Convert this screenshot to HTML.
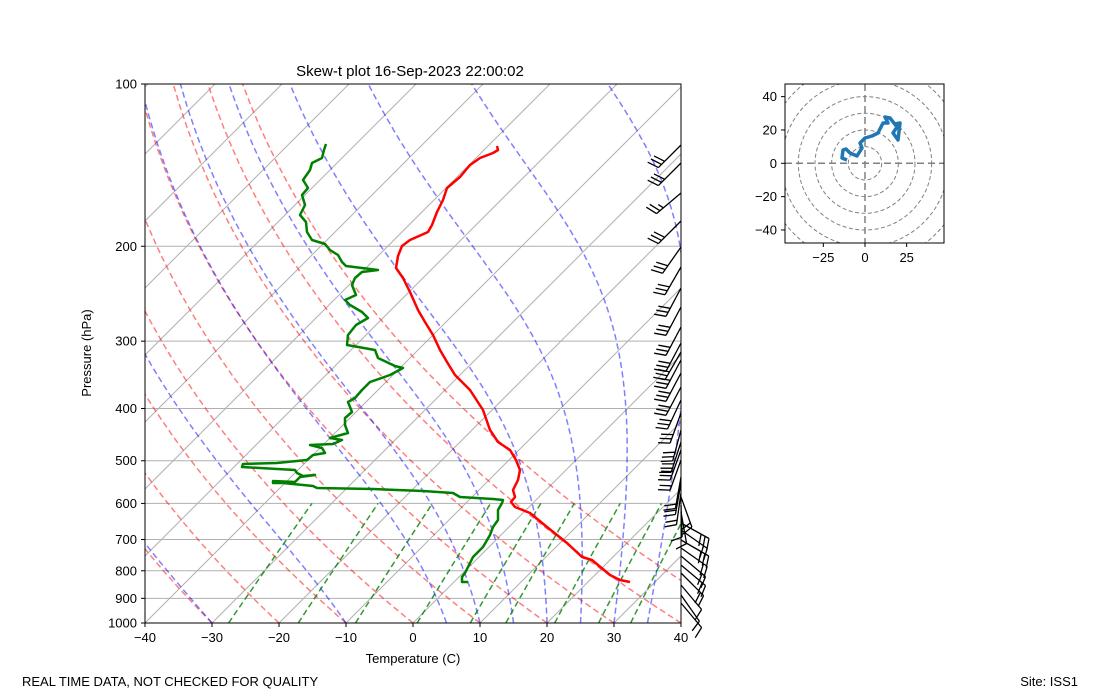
<!DOCTYPE html>
<html><head><meta charset="utf-8">
<style>
html,body{margin:0;padding:0;background:#fff;}
svg{display:block;}
text{font-family:"Liberation Sans","DejaVu Sans",sans-serif;font-size:13px;fill:#000;}
</style></head>
<body>
<svg id="s" width="1100" height="700" viewBox="0 0 1100 700" xmlns="http://www.w3.org/2000/svg">
<defs>
<clipPath id="c"><rect x="145" y="84" width="536" height="539"/></clipPath>
<clipPath id="h"><rect x="785" y="84" width="159" height="159"/></clipPath>
</defs>
<g id="main" clip-path="url(#c)"></g>
<g id="hod" clip-path="url(#h)"></g>
<g id="barbs"></g>
<rect x="145" y="84" width="536" height="539" fill="none" stroke="#000" stroke-width="1"/>
<rect x="785" y="84" width="159" height="159" fill="none" stroke="#000" stroke-width="1"/>
<g id="ticks"></g>
<text x="410" y="76" text-anchor="middle" style="font-size:15px">Skew-t plot 16-Sep-2023 22:00:02</text>
<text x="413" y="663" text-anchor="middle">Temperature (C)</text>
<text transform="translate(91,353) rotate(-90)" text-anchor="middle">Pressure (hPa)</text>
<text x="22" y="686">REAL TIME DATA, NOT CHECKED FOR QUALITY</text>
<text x="1078" y="686" text-anchor="end">Site: ISS1</text>
</svg>
<script>
var NS="http://www.w3.org/2000/svg";
function el(par,tag,at,txt){var e=document.createElementNS(NS,tag);for(var k in at)e.setAttribute(k,at[k]);if(txt!==undefined)e.textContent=txt;par.appendChild(e);return e;}
var M=document.getElementById('main'),T=document.getElementById('ticks'),H=document.getElementById('hod'),B=document.getElementById('barbs');
function yOf(p){return 623-539*Math.log10(1000/p);}
function xOf(t,p){return 145+(t+40)*6.7+(623-yOf(p));}
function pathOf(pts){return pts.map(function(q,i){return (i?'L':'M')+q[0].toFixed(1)+' '+q[1].toFixed(1);}).join(' ');}
[100,200,300,400,500,600,700,800,900,1000].forEach(function(p){var y=yOf(p);
el(M,'line',{x1:145,x2:681,y1:y,y2:y,stroke:'#b0b0b0','stroke-width':1});
el(T,'line',{x1:141,x2:145,y1:y,y2:y,stroke:'#000'});
el(T,'text',{x:137,y:y+4.5,'text-anchor':'end'},String(p));});
for(var t=-130;t<=40;t+=10){var x0=145+(t+40)*6.7;el(M,'line',{x1:x0,y1:623,x2:x0+539,y2:84,stroke:'#b0b0b0','stroke-width':1});}
for(var t=-40;t<=40;t+=10){var x=145+(t+40)*6.7;el(T,'line',{x1:x,x2:x,y1:623,y2:627,stroke:'#000'});
el(T,'text',{x:x,y:642,'text-anchor':'middle'},(t<0?'\u2212'+(-t):String(t)));}
for(var th=-40;th<=50;th+=10){var pts=[];for(var p=1000;p>=100;p-=10){var tk=(th+273.15)*Math.pow(p/1000,0.286)-273.15;pts.push([xOf(tk,p),yOf(p)]);}
el(M,'path',{d:pathOf(pts),fill:'none',stroke:'#ff0000','stroke-opacity':0.5,'stroke-width':1.5,'stroke-dasharray':'6,3.5'});}
function es(tc){return 6.112*Math.exp(17.67*tc/(tc+243.5));}
[-30,-10,5,10,15,20,25,30,35].forEach(function(t0){var Tk=t0+273.15,pts=[],dp=-2;
for(var p=1000;p>=100;p+=dp){pts.push([xOf(Tk-273.15,p),yOf(p)]);
var e=es(Tk-273.15),rs=0.622*e/(p-e);
var g=(287.04*Tk+2.501e6*rs)/(1005.7+2.501e6*2.501e6*rs*0.622/(287.04*Tk*Tk))/p;Tk+=g*dp;}
el(M,'path',{d:pathOf(pts),fill:'none',stroke:'#0000ff','stroke-opacity':0.5,'stroke-width':1.5,'stroke-dasharray':'6,3.5'});});
[0.0004,0.001,0.002,0.004,0.007,0.01,0.016,0.024,0.032].forEach(function(w){var pts=[];
for(var p=1000;p>=600;p-=20){var e=p*w/(0.622+w),l=Math.log(e/6.112),td=243.5*l/(17.67-l);pts.push([xOf(td,p),yOf(p)]);}
el(M,'path',{d:pathOf(pts),fill:'none',stroke:'#008000','stroke-opacity':0.8,'stroke-width':1.5,'stroke-dasharray':'6,3.5'});});
var tp=[[497,146],[498,150],[493,153],[480,158],[470,165],[460,177],[447,188],[443,200],[437,212],[432,225],[428,232],[410,240],[402,246],[398,256],[396,268],[403,278],[410,292],[418,310],[425,322],[433,335],[440,350],[447,362],[455,375],[470,390],[483,410],[490,430],[498,442],[510,450],[516,460],[520,470],[518,480],[513,490],[515,497],[511,502],[515,507],[530,513],[547,527],[567,543],[582,557],[592,560],[610,575],[620,580],[630,582]];
el(M,'path',{d:pathOf(tp),fill:'none',stroke:'#ff0000','stroke-width':2.5,'stroke-linejoin':'round'});
var dp=[[326,144],[324,150],[322,158],[312,163],[310,170],[303,180],[308,188],[302,195],[305,205],[300,215],[306,222],[307,232],[312,240],[325,244],[330,250],[338,255],[342,262],[346,266],[378,270],[362,272],[355,278],[352,285],[356,295],[345,300],[350,305],[362,312],[368,318],[356,325],[348,335],[347,345],[375,350],[378,358],[395,366],[403,368],[390,375],[370,382],[362,390],[355,398],[348,402],[352,412],[345,418],[345,425],[348,433],[330,438],[342,440],[333,444],[310,445],[322,448],[325,453],[313,455],[307,460],[277,463],[243,464],[242,467],[260,468],[295,470],[297,473],[303,476],[315,475],[300,477],[295,482],[273,481],[273,483],[283,483],[313,486],[317,488],[373,489],[423,491],[453,493],[460,497],[493,499],[503,500],[502,503],[498,510],[498,520],[493,527],[490,535],[483,547],[473,557],[470,563],[465,573],[462,577],[462,582],[468,582]];
el(M,'path',{d:pathOf(dp),fill:'none',stroke:'#008000','stroke-width':2.5,'stroke-linejoin':'round'});
var bl=[[145,135,3],[163,135,3],[193,140,2.5],[221,135,3],[247,125,3],[267,120,3],[288,118,3],[307,118,3],[327,118,3],[343,118,3],[352,120,3],[360,118,3],[373,118,3],[387,118,3],[400,115,3],[413,110,3],[430,105,3],[442,108,3],[450,110,3],[460,110,2],[477,100,2],[483,100,2],[493,98,2],[497,70,2],[505,88,1],[512,80,1],[523,29,3],[530,35,2],[540,30,3],[548,35,2],[556,40,2],[565,40,2],[573,45,2],[585,50,1],[595,55,1],[603,50,1]];
bl.forEach(function(b){var x0=681,y0=b[0],a=b[1]*Math.PI/180,L=32,ux=Math.cos(a),uy=Math.sin(a);
var tx=x0+ux*L,ty=y0+uy*L,ba=a+72*Math.PI/180,bx=Math.cos(ba),by=Math.sin(ba);
var d='M'+x0+' '+y0+'L'+tx.toFixed(1)+' '+ty.toFixed(1);var n=b[2],k=0;
while(n>0){var sx=tx-ux*k*4.5,sy=ty-uy*k*4.5,len=(n>=1?12:6);d+='M'+sx.toFixed(1)+' '+sy.toFixed(1)+'l'+(bx*len).toFixed(1)+' '+(by*len).toFixed(1);n-=1;k++;}
el(B,'path',{d:d,fill:'none',stroke:'#000','stroke-width':1.3});});
var cx=865,cy=163.3,s=1.667;
for(var r=10;r<=70;r+=10)el(H,'circle',{cx:cx,cy:cy,r:r*s,fill:'none',stroke:'#808080','stroke-width':1,'stroke-dasharray':'4,2.5'});
el(H,'line',{x1:785,x2:944,y1:cy,y2:cy,stroke:'#808080','stroke-width':1.5,'stroke-dasharray':'7,4'});
el(H,'line',{x1:cx,x2:cx,y1:84,y2:243,stroke:'#808080','stroke-width':1.5,'stroke-dasharray':'7,4'});
var hp=[[847,160],[842,158],[843,150],[846,149],[850,153],[857,156],[862,148],[860,143],[865,138],[872,136],[878,133],[883,123],[888,123],[885,117],[890,118],[897,127],[893,133],[898,140],[900,123],[895,124]];
el(H,'path',{d:pathOf(hp),fill:'none',stroke:'#1f77b4','stroke-width':3.5,'stroke-linejoin':'round'});
[40,20,0,-20,-40].forEach(function(v){var y=cy-v*s;el(T,'line',{x1:781,x2:785,y1:y,y2:y,stroke:'#000'});
el(T,'text',{x:777,y:y+4.5,'text-anchor':'end'},v<0?'\u2212'+(-v):String(v));});
[-25,0,25].forEach(function(u){var x=cx+u*s;el(T,'line',{x1:x,x2:x,y1:243,y2:247,stroke:'#000'});
el(T,'text',{x:x,y:262,'text-anchor':'middle'},u<0?'\u2212'+(-u):String(u));});
</script>
</body></html>
